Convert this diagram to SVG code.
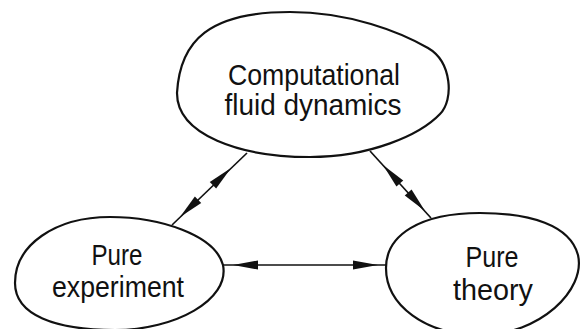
<svg xmlns="http://www.w3.org/2000/svg" xmlns:xlink="http://www.w3.org/1999/xlink" width="581" height="329" viewBox="0 0 581 329">
<style>
.node{fill:#fff;stroke:#111;stroke-width:2.2}
.lbl{font-family:"Liberation Sans","DejaVu Sans",sans-serif;font-size:29px;fill:#111;text-anchor:middle}
.conn{stroke:#111;stroke-width:1.7;fill:none}
.ah{fill:#111}
</style>
<defs>
<path id="ah" d="M0,0 L-25,-4.6 L-25,4.6 Z"/>
</defs>
<rect width="581" height="329" fill="#fff"/>
<g id="connectors">
<line class="conn" x1="247" y1="153" x2="172" y2="225"/>
<line class="conn" x1="370" y1="151" x2="431" y2="218"/>
<line class="conn" x1="222" y1="265" x2="388" y2="265"/>
<use class="ah" href="#ah" xlink:href="#ah" transform="translate(231,168) rotate(-43.8)"/>
<use class="ah" href="#ah" xlink:href="#ah" transform="translate(180,217) rotate(136.2)"/>
<use class="ah" href="#ah" xlink:href="#ah" transform="translate(383,165) rotate(-132.3)"/>
<use class="ah" href="#ah" xlink:href="#ah" transform="translate(425,211) rotate(47.7)"/>
<use class="ah" href="#ah" xlink:href="#ah" transform="translate(233,265) rotate(180)"/>
<use class="ah" href="#ah" xlink:href="#ah" transform="translate(378,265)"/>
</g>
<g id="cfd">
<path class="node" d="M177,93 C180,40 210,12 290,12 C350,12 400,32 428,48 C452,62 454,100 440,114 C420,135 370,157 310,157 C240,157 177,135 177,93 Z"/>
<text class="lbl" x="314" y="85" textLength="172" lengthAdjust="spacingAndGlyphs">Computational</text>
<text class="lbl" x="313" y="115" textLength="177" lengthAdjust="spacingAndGlyphs">fluid dynamics</text>
</g>
<g id="experiment">
<path class="node" d="M15,283 C15,245 55,217 110,217 C160,217 215,235 223,265 C230,300 175,330 115,330 C55,330 15,315 15,283 Z"/>
<text class="lbl" x="117" y="265" textLength="51" lengthAdjust="spacingAndGlyphs">Pure</text>
<text class="lbl" x="118" y="297" textLength="132" lengthAdjust="spacingAndGlyphs">experiment</text>
</g>
<g id="theory">
<path class="node" d="M386,268 C386,235 420,213 480,213 C530,213 570,225 578,255 C586,290 540,335 480,335 C425,335 386,305 386,268 Z"/>
<text class="lbl" x="492" y="267" textLength="53" lengthAdjust="spacingAndGlyphs">Pure</text>
<text class="lbl" x="493" y="300" textLength="80" lengthAdjust="spacingAndGlyphs">theory</text>
</g>
</svg>
